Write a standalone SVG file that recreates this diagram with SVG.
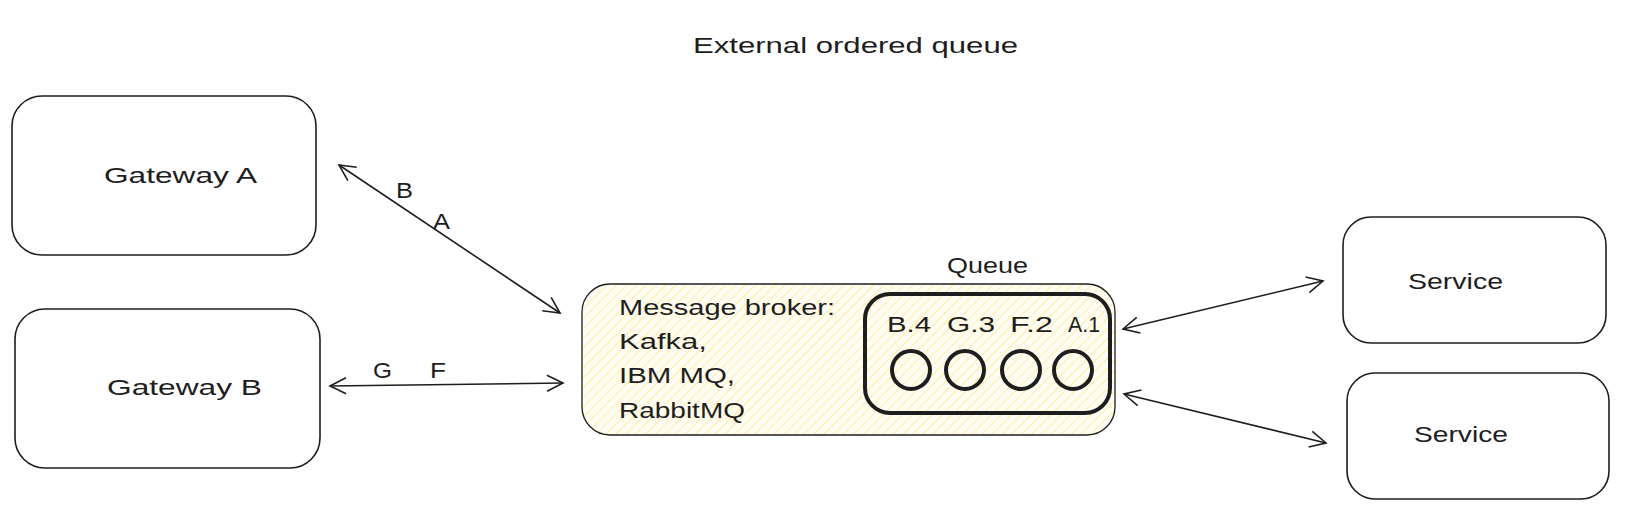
<svg xmlns="http://www.w3.org/2000/svg" width="1625" height="519" viewBox="0 0 1625 519">
<defs>
<style>
.box{fill:#fff;stroke:#1e1e1e;stroke-width:1.6}
.t{font-family:"Liberation Sans",Arial,sans-serif;font-size:22px;fill:#1e1e1e}
.c{stroke:#1e1e1e;stroke-width:1.6;fill:none}
</style>
<pattern id="hatch" width="7" height="7" patternUnits="userSpaceOnUse" patternTransform="rotate(45)">
<rect width="7" height="7" fill="#fffdf3"/>
<line x1="0" y1="0" x2="0" y2="7" stroke="#ffe98a" stroke-width="1.6"/>
</pattern>
<marker id="ah" viewBox="0 0 20 20" refX="18" refY="10" markerWidth="20" markerHeight="20" markerUnits="userSpaceOnUse" orient="auto-start-reverse">
<path d="M2,2 L18,10 L2,18" fill="none" stroke="#1e1e1e" stroke-width="1.6"/>
</marker>
</defs>
<rect width="1625" height="519" fill="#fff"/>
<text class="t" x="693" y="53" textLength="325" lengthAdjust="spacingAndGlyphs">External ordered queue</text>

<g id="gatewayA">
<rect class="box" x="12" y="96" width="304" height="159" rx="30"/>
<text class="t" x="104" y="183" textLength="153" lengthAdjust="spacingAndGlyphs">Gateway A</text>
</g>
<g id="gatewayB">
<rect class="box" x="15" y="309" width="305" height="159" rx="30"/>
<text class="t" x="107" y="395" textLength="155" lengthAdjust="spacingAndGlyphs">Gateway B</text>
</g>
<g id="service1">
<rect class="box" x="1343" y="217" width="263" height="126" rx="28"/>
<text class="t" x="1408" y="289" textLength="95" lengthAdjust="spacingAndGlyphs">Service</text>
</g>
<g id="service2">
<rect class="box" x="1347" y="373" width="262" height="126" rx="28"/>
<text class="t" x="1414" y="442" textLength="94" lengthAdjust="spacingAndGlyphs">Service</text>
</g>

<g id="broker">
<rect x="582" y="284" width="533" height="151" rx="28" fill="url(#hatch)" stroke="#1e1e1e" stroke-width="1.3"/>
<text class="t" x="619" y="315" textLength="216" lengthAdjust="spacingAndGlyphs">Message broker:</text>
<text class="t" x="619" y="349" textLength="88" lengthAdjust="spacingAndGlyphs">Kafka,</text>
<text class="t" x="619" y="383" textLength="116" lengthAdjust="spacingAndGlyphs">IBM MQ,</text>
<text class="t" x="619" y="418" textLength="126" lengthAdjust="spacingAndGlyphs">RabbitMQ</text>
</g>
<g id="queue">
<text class="t" x="947" y="273" textLength="81" lengthAdjust="spacingAndGlyphs">Queue</text>
<rect x="865" y="294" width="245" height="119" rx="25" fill="none" stroke="#1e1e1e" stroke-width="4"/>
<text class="t" x="887" y="332" textLength="44" lengthAdjust="spacingAndGlyphs">B.4</text>
<text class="t" x="947" y="332" textLength="48" lengthAdjust="spacingAndGlyphs">G.3</text>
<text class="t" x="1010" y="332" textLength="43" lengthAdjust="spacingAndGlyphs">F.2</text>
<text class="t" x="1068" y="332" textLength="32" lengthAdjust="spacingAndGlyphs">A.1</text>
<g fill="none" stroke="#1e1e1e" stroke-width="4">
<circle cx="911" cy="370" r="19"/>
<circle cx="965" cy="370" r="19"/>
<circle cx="1021" cy="370" r="19"/>
<circle cx="1073" cy="370" r="19"/>
</g>
</g>

<g id="connectors">
<line class="c" x1="339" y1="165" x2="560" y2="313" marker-start="url(#ah)" marker-end="url(#ah)"/>
<line class="c" x1="330" y1="386" x2="563" y2="383" marker-start="url(#ah)" marker-end="url(#ah)"/>
<line class="c" x1="1123" y1="329" x2="1323" y2="281" marker-start="url(#ah)" marker-end="url(#ah)"/>
<line class="c" x1="1124" y1="394" x2="1326" y2="443" marker-start="url(#ah)" marker-end="url(#ah)"/>
<text class="t" x="396" y="198" textLength="17" lengthAdjust="spacingAndGlyphs">B</text>
<text class="t" x="433" y="229" textLength="17" lengthAdjust="spacingAndGlyphs">A</text>
<text class="t" x="373" y="378" textLength="19" lengthAdjust="spacingAndGlyphs">G</text>
<text class="t" x="430" y="378" textLength="16" lengthAdjust="spacingAndGlyphs">F</text>
</g>
</svg>
